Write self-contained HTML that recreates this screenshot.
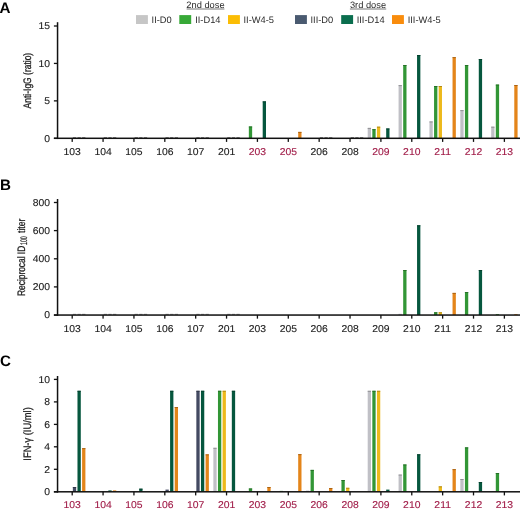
<!DOCTYPE html><html><head><meta charset="utf-8"><style>
html,body{margin:0;padding:0;background:#fff;}body{width:520px;height:511px;overflow:hidden;}
svg{display:block;filter:blur(0.35px);}text{font-family:"Liberation Sans", sans-serif;text-rendering:geometricPrecision;}
</style></head><body>
<svg width="520" height="511" viewBox="0 0 520 511">
<g font-size="9.3" fill="#2a2a2a">
<text x="205.5" y="8.1" text-anchor="middle">2nd dose</text>
<rect x="186.6" y="8.6" width="37.8" height="0.8" fill="#555" stroke="none"/>
<text x="368" y="8.1" text-anchor="middle">3rd dose</text>
<rect x="349.9" y="8.6" width="36.3" height="0.8" fill="#555" stroke="none"/>
<rect x="136.0" y="15.1" width="11.9" height="8.9" fill="#c6c6c6" stroke="none"/>
<text x="151.6" y="22.8">II-D0</text>
<rect x="179.3" y="15.1" width="11.9" height="8.9" fill="#37a937" stroke="none"/>
<text x="195.2" y="22.8">II-D14</text>
<rect x="228.0" y="15.1" width="11.9" height="8.9" fill="#fbbd05" stroke="none"/>
<text x="243.5" y="22.8">II-W4-5</text>
<rect x="295.0" y="15.1" width="11.9" height="8.9" fill="#4a5a70" stroke="none"/>
<text x="310.5" y="22.8">III-D0</text>
<rect x="341.2" y="15.1" width="11.9" height="8.9" fill="#0a6e4e" stroke="none"/>
<text x="356.7" y="22.8">III-D14</text>
<rect x="392.0" y="15.1" width="11.9" height="8.9" fill="#f98c0c" stroke="none"/>
<text x="407.7" y="22.8">III-W4-5</text>
</g>
<text x="-0.5" y="12.5" font-size="15.2" font-weight="bold" fill="#000">A</text>
<rect x="72.86" y="137.15" width="3.30" height="0.6" fill="#444"/>
<rect x="77.48" y="137.15" width="3.30" height="0.6" fill="#444"/>
<rect x="82.10" y="137.15" width="3.30" height="0.6" fill="#444"/>
<rect x="103.73" y="137.15" width="3.30" height="0.6" fill="#444"/>
<rect x="108.35" y="137.15" width="3.30" height="0.6" fill="#444"/>
<rect x="112.97" y="137.15" width="3.30" height="0.6" fill="#444"/>
<rect x="134.60" y="137.15" width="3.30" height="0.6" fill="#444"/>
<rect x="139.22" y="137.15" width="3.30" height="0.6" fill="#444"/>
<rect x="143.84" y="137.15" width="3.30" height="0.6" fill="#444"/>
<rect x="165.47" y="137.15" width="3.30" height="0.6" fill="#444"/>
<rect x="170.09" y="137.15" width="3.30" height="0.6" fill="#444"/>
<rect x="174.71" y="137.15" width="3.30" height="0.6" fill="#444"/>
<rect x="196.34" y="137.15" width="3.30" height="0.6" fill="#444"/>
<rect x="200.96" y="137.15" width="3.30" height="0.6" fill="#444"/>
<rect x="205.58" y="137.15" width="3.30" height="0.6" fill="#444"/>
<rect x="227.21" y="137.15" width="3.30" height="0.6" fill="#444"/>
<rect x="231.83" y="137.15" width="3.30" height="0.6" fill="#444"/>
<rect x="236.45" y="137.15" width="3.30" height="0.6" fill="#444"/>
<rect x="319.82" y="137.15" width="3.30" height="0.6" fill="#444"/>
<rect x="324.44" y="137.15" width="3.30" height="0.6" fill="#444"/>
<rect x="329.06" y="137.15" width="3.30" height="0.6" fill="#444"/>
<rect x="350.69" y="137.15" width="3.30" height="0.6" fill="#444"/>
<rect x="355.31" y="137.15" width="3.30" height="0.6" fill="#444"/>
<rect x="359.93" y="137.15" width="3.30" height="0.6" fill="#444"/>
<rect x="248.84" y="126.50" width="3.30" height="11.80" fill="#329636"/>
<rect x="248.84" y="126.50" width="3.30" height="0.9" fill="#246c26"/>
<rect x="262.70" y="101.40" width="3.30" height="36.90" fill="#06573e"/>
<rect x="262.70" y="101.40" width="3.30" height="0.9" fill="#043e2c"/>
<rect x="298.19" y="131.90" width="3.30" height="6.40" fill="#e4851a"/>
<rect x="298.19" y="131.90" width="3.30" height="0.9" fill="#a45f12"/>
<rect x="367.70" y="127.90" width="3.30" height="10.40" fill="#c0c0c6"/>
<rect x="367.70" y="127.90" width="3.30" height="0.9" fill="#8a8a8e"/>
<rect x="372.32" y="129.20" width="3.30" height="9.10" fill="#329636"/>
<rect x="372.32" y="129.20" width="3.30" height="0.9" fill="#246c26"/>
<rect x="376.94" y="126.70" width="3.30" height="11.60" fill="#edb91c"/>
<rect x="376.94" y="126.70" width="3.30" height="0.9" fill="#aa8514"/>
<rect x="386.18" y="128.50" width="3.30" height="9.80" fill="#06573e"/>
<rect x="386.18" y="128.50" width="3.30" height="0.9" fill="#043e2c"/>
<rect x="398.57" y="85.20" width="3.30" height="53.10" fill="#c0c0c6"/>
<rect x="398.57" y="85.20" width="3.30" height="0.9" fill="#8a8a8e"/>
<rect x="403.19" y="65.00" width="3.30" height="73.30" fill="#329636"/>
<rect x="403.19" y="65.00" width="3.30" height="0.9" fill="#246c26"/>
<rect x="417.05" y="55.00" width="3.30" height="83.30" fill="#06573e"/>
<rect x="417.05" y="55.00" width="3.30" height="0.9" fill="#043e2c"/>
<rect x="429.44" y="121.50" width="3.30" height="16.80" fill="#c0c0c6"/>
<rect x="429.44" y="121.50" width="3.30" height="0.9" fill="#8a8a8e"/>
<rect x="434.06" y="86.00" width="3.30" height="52.30" fill="#329636"/>
<rect x="434.06" y="86.00" width="3.30" height="0.9" fill="#246c26"/>
<rect x="438.68" y="86.00" width="3.30" height="52.30" fill="#edb91c"/>
<rect x="438.68" y="86.00" width="3.30" height="0.9" fill="#aa8514"/>
<rect x="452.54" y="57.20" width="3.30" height="81.10" fill="#e4851a"/>
<rect x="452.54" y="57.20" width="3.30" height="0.9" fill="#a45f12"/>
<rect x="460.31" y="110.20" width="3.30" height="28.10" fill="#c0c0c6"/>
<rect x="460.31" y="110.20" width="3.30" height="0.9" fill="#8a8a8e"/>
<rect x="464.93" y="65.00" width="3.30" height="73.30" fill="#329636"/>
<rect x="464.93" y="65.00" width="3.30" height="0.9" fill="#246c26"/>
<rect x="478.79" y="59.10" width="3.30" height="79.20" fill="#06573e"/>
<rect x="478.79" y="59.10" width="3.30" height="0.9" fill="#043e2c"/>
<rect x="491.18" y="126.70" width="3.30" height="11.60" fill="#c0c0c6"/>
<rect x="491.18" y="126.70" width="3.30" height="0.9" fill="#8a8a8e"/>
<rect x="495.80" y="84.60" width="3.30" height="53.70" fill="#329636"/>
<rect x="495.80" y="84.60" width="3.30" height="0.9" fill="#246c26"/>
<rect x="514.28" y="85.00" width="3.30" height="53.30" fill="#e4851a"/>
<rect x="514.28" y="85.00" width="3.30" height="0.9" fill="#a45f12"/>
<rect x="56.80" y="22.20" width="1.5" height="116.85" fill="#111"/>
<rect x="53.9" y="137.55" width="466.1" height="1.5" fill="#111"/>
<rect x="53.9" y="137.65" width="4" height="1.3" fill="#111"/>
<text transform="translate(50.1,141.70) scale(1.050,1)" font-size="9.9" text-anchor="end" fill="#222" stroke="#222" stroke-width="0.12">0</text>
<rect x="53.9" y="100.22" width="4" height="1.3" fill="#111"/>
<text transform="translate(50.1,104.27) scale(1.050,1)" font-size="9.9" text-anchor="end" fill="#222" stroke="#222" stroke-width="0.12">5</text>
<rect x="53.9" y="62.78" width="4" height="1.3" fill="#111"/>
<text transform="translate(50.1,66.83) scale(1.050,1)" font-size="9.9" text-anchor="end" fill="#222" stroke="#222" stroke-width="0.12">10</text>
<rect x="53.9" y="25.35" width="4" height="1.3" fill="#111"/>
<text transform="translate(50.1,29.40) scale(1.050,1)" font-size="9.9" text-anchor="end" fill="#222" stroke="#222" stroke-width="0.12">15</text>
<rect x="71.55" y="138.30" width="1.3" height="3.6" fill="#111"/>
<text transform="translate(72.20,154.70) scale(1.050,1)" font-size="9.9" text-anchor="middle" fill="#222" stroke="#222" stroke-width="0.12">103</text>
<rect x="102.42" y="138.30" width="1.3" height="3.6" fill="#111"/>
<text transform="translate(103.07,154.70) scale(1.050,1)" font-size="9.9" text-anchor="middle" fill="#222" stroke="#222" stroke-width="0.12">104</text>
<rect x="133.29" y="138.30" width="1.3" height="3.6" fill="#111"/>
<text transform="translate(133.94,154.70) scale(1.050,1)" font-size="9.9" text-anchor="middle" fill="#222" stroke="#222" stroke-width="0.12">105</text>
<rect x="164.16" y="138.30" width="1.3" height="3.6" fill="#111"/>
<text transform="translate(164.81,154.70) scale(1.050,1)" font-size="9.9" text-anchor="middle" fill="#222" stroke="#222" stroke-width="0.12">106</text>
<rect x="195.03" y="138.30" width="1.3" height="3.6" fill="#111"/>
<text transform="translate(195.68,154.70) scale(1.050,1)" font-size="9.9" text-anchor="middle" fill="#222" stroke="#222" stroke-width="0.12">107</text>
<rect x="225.90" y="138.30" width="1.3" height="3.6" fill="#111"/>
<text transform="translate(226.55,154.70) scale(1.050,1)" font-size="9.9" text-anchor="middle" fill="#222" stroke="#222" stroke-width="0.12">201</text>
<rect x="256.77" y="138.30" width="1.3" height="3.6" fill="#111"/>
<text transform="translate(257.42,154.70) scale(1.050,1)" font-size="9.9" text-anchor="middle" fill="#a01c48" stroke="#a01c48" stroke-width="0.12">203</text>
<rect x="287.64" y="138.30" width="1.3" height="3.6" fill="#111"/>
<text transform="translate(288.29,154.70) scale(1.050,1)" font-size="9.9" text-anchor="middle" fill="#a01c48" stroke="#a01c48" stroke-width="0.12">205</text>
<rect x="318.51" y="138.30" width="1.3" height="3.6" fill="#111"/>
<text transform="translate(319.16,154.70) scale(1.050,1)" font-size="9.9" text-anchor="middle" fill="#222" stroke="#222" stroke-width="0.12">206</text>
<rect x="349.38" y="138.30" width="1.3" height="3.6" fill="#111"/>
<text transform="translate(350.03,154.70) scale(1.050,1)" font-size="9.9" text-anchor="middle" fill="#222" stroke="#222" stroke-width="0.12">208</text>
<rect x="380.25" y="138.30" width="1.3" height="3.6" fill="#111"/>
<text transform="translate(380.90,154.70) scale(1.050,1)" font-size="9.9" text-anchor="middle" fill="#a01c48" stroke="#a01c48" stroke-width="0.12">209</text>
<rect x="411.12" y="138.30" width="1.3" height="3.6" fill="#111"/>
<text transform="translate(411.77,154.70) scale(1.050,1)" font-size="9.9" text-anchor="middle" fill="#a01c48" stroke="#a01c48" stroke-width="0.12">210</text>
<rect x="441.99" y="138.30" width="1.3" height="3.6" fill="#111"/>
<text transform="translate(442.64,154.70) scale(1.050,1)" font-size="9.9" text-anchor="middle" fill="#a01c48" stroke="#a01c48" stroke-width="0.12">211</text>
<rect x="472.86" y="138.30" width="1.3" height="3.6" fill="#111"/>
<text transform="translate(473.51,154.70) scale(1.050,1)" font-size="9.9" text-anchor="middle" fill="#a01c48" stroke="#a01c48" stroke-width="0.12">212</text>
<rect x="503.73" y="138.30" width="1.3" height="3.6" fill="#111"/>
<text transform="translate(504.38,154.70) scale(1.050,1)" font-size="9.9" text-anchor="middle" fill="#a01c48" stroke="#a01c48" stroke-width="0.12">213</text>
<text x="0.0" y="189.6" font-size="15.2" font-weight="bold" fill="#000">B</text>
<rect x="72.86" y="313.90" width="3.30" height="0.6" fill="#444"/>
<rect x="77.48" y="313.90" width="3.30" height="0.6" fill="#444"/>
<rect x="82.10" y="313.90" width="3.30" height="0.6" fill="#444"/>
<rect x="103.73" y="313.90" width="3.30" height="0.6" fill="#444"/>
<rect x="108.35" y="313.90" width="3.30" height="0.6" fill="#444"/>
<rect x="112.97" y="313.90" width="3.30" height="0.6" fill="#444"/>
<rect x="134.60" y="313.90" width="3.30" height="0.6" fill="#444"/>
<rect x="139.22" y="313.90" width="3.30" height="0.6" fill="#444"/>
<rect x="143.84" y="313.90" width="3.30" height="0.6" fill="#444"/>
<rect x="165.47" y="313.90" width="3.30" height="0.6" fill="#444"/>
<rect x="170.09" y="313.90" width="3.30" height="0.6" fill="#444"/>
<rect x="174.71" y="313.90" width="3.30" height="0.6" fill="#444"/>
<rect x="196.34" y="313.90" width="3.30" height="0.6" fill="#444"/>
<rect x="200.96" y="313.90" width="3.30" height="0.6" fill="#444"/>
<rect x="205.58" y="313.90" width="3.30" height="0.6" fill="#444"/>
<rect x="227.21" y="313.90" width="3.30" height="0.6" fill="#444"/>
<rect x="231.83" y="313.90" width="3.30" height="0.6" fill="#444"/>
<rect x="236.45" y="313.90" width="3.30" height="0.6" fill="#444"/>
<rect x="398.57" y="313.80" width="3.30" height="1.25" fill="#c0c0c6"/>
<rect x="403.19" y="270.00" width="3.30" height="45.05" fill="#329636"/>
<rect x="403.19" y="270.00" width="3.30" height="0.9" fill="#246c26"/>
<rect x="417.05" y="225.30" width="3.30" height="89.75" fill="#06573e"/>
<rect x="417.05" y="225.30" width="3.30" height="0.9" fill="#043e2c"/>
<rect x="434.06" y="312.30" width="3.30" height="2.75" fill="#329636"/>
<rect x="434.06" y="312.30" width="3.30" height="0.9" fill="#246c26"/>
<rect x="438.68" y="312.30" width="3.30" height="2.75" fill="#edb91c"/>
<rect x="438.68" y="312.30" width="3.30" height="0.9" fill="#aa8514"/>
<rect x="452.54" y="292.90" width="3.30" height="22.15" fill="#e4851a"/>
<rect x="452.54" y="292.90" width="3.30" height="0.9" fill="#a45f12"/>
<rect x="464.93" y="292.10" width="3.30" height="22.95" fill="#329636"/>
<rect x="464.93" y="292.10" width="3.30" height="0.9" fill="#246c26"/>
<rect x="478.79" y="270.00" width="3.30" height="45.05" fill="#06573e"/>
<rect x="478.79" y="270.00" width="3.30" height="0.9" fill="#043e2c"/>
<rect x="495.80" y="314.20" width="3.30" height="0.85" fill="#329636"/>
<rect x="514.28" y="314.20" width="3.30" height="0.85" fill="#e4851a"/>
<rect x="56.80" y="199.00" width="1.5" height="116.80" fill="#111"/>
<rect x="53.9" y="314.30" width="466.1" height="1.5" fill="#111"/>
<rect x="53.9" y="314.40" width="4" height="1.3" fill="#111"/>
<text transform="translate(50.1,318.45) scale(1.050,1)" font-size="9.9" text-anchor="end" fill="#222" stroke="#222" stroke-width="0.12">0</text>
<rect x="53.9" y="286.25" width="4" height="1.3" fill="#111"/>
<text transform="translate(50.1,290.30) scale(1.050,1)" font-size="9.9" text-anchor="end" fill="#222" stroke="#222" stroke-width="0.12">200</text>
<rect x="53.9" y="258.15" width="4" height="1.3" fill="#111"/>
<text transform="translate(50.1,262.20) scale(1.050,1)" font-size="9.9" text-anchor="end" fill="#222" stroke="#222" stroke-width="0.12">400</text>
<rect x="53.9" y="229.95" width="4" height="1.3" fill="#111"/>
<text transform="translate(50.1,234.00) scale(1.050,1)" font-size="9.9" text-anchor="end" fill="#222" stroke="#222" stroke-width="0.12">600</text>
<rect x="53.9" y="201.85" width="4" height="1.3" fill="#111"/>
<text transform="translate(50.1,205.90) scale(1.050,1)" font-size="9.9" text-anchor="end" fill="#222" stroke="#222" stroke-width="0.12">800</text>
<rect x="71.55" y="315.05" width="1.3" height="3.6" fill="#111"/>
<text transform="translate(72.20,331.75) scale(1.050,1)" font-size="9.9" text-anchor="middle" fill="#222" stroke="#222" stroke-width="0.12">103</text>
<rect x="102.42" y="315.05" width="1.3" height="3.6" fill="#111"/>
<text transform="translate(103.07,331.75) scale(1.050,1)" font-size="9.9" text-anchor="middle" fill="#222" stroke="#222" stroke-width="0.12">104</text>
<rect x="133.29" y="315.05" width="1.3" height="3.6" fill="#111"/>
<text transform="translate(133.94,331.75) scale(1.050,1)" font-size="9.9" text-anchor="middle" fill="#222" stroke="#222" stroke-width="0.12">105</text>
<rect x="164.16" y="315.05" width="1.3" height="3.6" fill="#111"/>
<text transform="translate(164.81,331.75) scale(1.050,1)" font-size="9.9" text-anchor="middle" fill="#222" stroke="#222" stroke-width="0.12">106</text>
<rect x="195.03" y="315.05" width="1.3" height="3.6" fill="#111"/>
<text transform="translate(195.68,331.75) scale(1.050,1)" font-size="9.9" text-anchor="middle" fill="#222" stroke="#222" stroke-width="0.12">107</text>
<rect x="225.90" y="315.05" width="1.3" height="3.6" fill="#111"/>
<text transform="translate(226.55,331.75) scale(1.050,1)" font-size="9.9" text-anchor="middle" fill="#222" stroke="#222" stroke-width="0.12">201</text>
<rect x="256.77" y="315.05" width="1.3" height="3.6" fill="#111"/>
<text transform="translate(257.42,331.75) scale(1.050,1)" font-size="9.9" text-anchor="middle" fill="#222" stroke="#222" stroke-width="0.12">203</text>
<rect x="287.64" y="315.05" width="1.3" height="3.6" fill="#111"/>
<text transform="translate(288.29,331.75) scale(1.050,1)" font-size="9.9" text-anchor="middle" fill="#222" stroke="#222" stroke-width="0.12">205</text>
<rect x="318.51" y="315.05" width="1.3" height="3.6" fill="#111"/>
<text transform="translate(319.16,331.75) scale(1.050,1)" font-size="9.9" text-anchor="middle" fill="#222" stroke="#222" stroke-width="0.12">206</text>
<rect x="349.38" y="315.05" width="1.3" height="3.6" fill="#111"/>
<text transform="translate(350.03,331.75) scale(1.050,1)" font-size="9.9" text-anchor="middle" fill="#222" stroke="#222" stroke-width="0.12">208</text>
<rect x="380.25" y="315.05" width="1.3" height="3.6" fill="#111"/>
<text transform="translate(380.90,331.75) scale(1.050,1)" font-size="9.9" text-anchor="middle" fill="#222" stroke="#222" stroke-width="0.12">209</text>
<rect x="411.12" y="315.05" width="1.3" height="3.6" fill="#111"/>
<text transform="translate(411.77,331.75) scale(1.050,1)" font-size="9.9" text-anchor="middle" fill="#222" stroke="#222" stroke-width="0.12">210</text>
<rect x="441.99" y="315.05" width="1.3" height="3.6" fill="#111"/>
<text transform="translate(442.64,331.75) scale(1.050,1)" font-size="9.9" text-anchor="middle" fill="#222" stroke="#222" stroke-width="0.12">211</text>
<rect x="472.86" y="315.05" width="1.3" height="3.6" fill="#111"/>
<text transform="translate(473.51,331.75) scale(1.050,1)" font-size="9.9" text-anchor="middle" fill="#222" stroke="#222" stroke-width="0.12">212</text>
<rect x="503.73" y="315.05" width="1.3" height="3.6" fill="#111"/>
<text transform="translate(504.38,331.75) scale(1.050,1)" font-size="9.9" text-anchor="middle" fill="#222" stroke="#222" stroke-width="0.12">213</text>
<text x="0.0" y="366.2" font-size="15.2" font-weight="bold" fill="#000">C</text>
<rect x="72.86" y="487.10" width="3.30" height="4.70" fill="#444a62"/>
<rect x="72.86" y="487.10" width="3.30" height="0.9" fill="#303546"/>
<rect x="77.48" y="390.80" width="3.30" height="101.00" fill="#06573e"/>
<rect x="77.48" y="390.80" width="3.30" height="0.9" fill="#043e2c"/>
<rect x="82.10" y="448.20" width="3.30" height="43.60" fill="#e4851a"/>
<rect x="82.10" y="448.20" width="3.30" height="0.9" fill="#a45f12"/>
<rect x="108.35" y="490.40" width="3.30" height="1.40" fill="#06573e"/>
<rect x="112.97" y="490.40" width="3.30" height="1.40" fill="#e4851a"/>
<rect x="139.22" y="488.70" width="3.30" height="3.10" fill="#06573e"/>
<rect x="139.22" y="488.70" width="3.30" height="0.9" fill="#043e2c"/>
<rect x="165.47" y="489.60" width="3.30" height="2.20" fill="#444a62"/>
<rect x="170.09" y="390.80" width="3.30" height="101.00" fill="#06573e"/>
<rect x="170.09" y="390.80" width="3.30" height="0.9" fill="#043e2c"/>
<rect x="174.71" y="407.00" width="3.30" height="84.80" fill="#e4851a"/>
<rect x="174.71" y="407.00" width="3.30" height="0.9" fill="#a45f12"/>
<rect x="196.34" y="390.80" width="3.30" height="101.00" fill="#444a62"/>
<rect x="196.34" y="390.80" width="3.30" height="0.9" fill="#303546"/>
<rect x="200.96" y="390.80" width="3.30" height="101.00" fill="#06573e"/>
<rect x="200.96" y="390.80" width="3.30" height="0.9" fill="#043e2c"/>
<rect x="205.58" y="454.40" width="3.30" height="37.40" fill="#e4851a"/>
<rect x="205.58" y="454.40" width="3.30" height="0.9" fill="#a45f12"/>
<rect x="213.35" y="447.80" width="3.30" height="44.00" fill="#c0c0c6"/>
<rect x="213.35" y="447.80" width="3.30" height="0.9" fill="#8a8a8e"/>
<rect x="217.97" y="390.80" width="3.30" height="101.00" fill="#329636"/>
<rect x="217.97" y="390.80" width="3.30" height="0.9" fill="#246c26"/>
<rect x="222.59" y="390.80" width="3.30" height="101.00" fill="#edb91c"/>
<rect x="222.59" y="390.80" width="3.30" height="0.9" fill="#aa8514"/>
<rect x="231.83" y="390.80" width="3.30" height="101.00" fill="#06573e"/>
<rect x="231.83" y="390.80" width="3.30" height="0.9" fill="#043e2c"/>
<rect x="248.84" y="488.50" width="3.30" height="3.30" fill="#329636"/>
<rect x="248.84" y="488.50" width="3.30" height="0.9" fill="#246c26"/>
<rect x="267.32" y="487.00" width="3.30" height="4.80" fill="#e4851a"/>
<rect x="267.32" y="487.00" width="3.30" height="0.9" fill="#a45f12"/>
<rect x="279.71" y="490.90" width="3.30" height="0.90" fill="#329636"/>
<rect x="298.19" y="454.20" width="3.30" height="37.60" fill="#e4851a"/>
<rect x="298.19" y="454.20" width="3.30" height="0.9" fill="#a45f12"/>
<rect x="305.96" y="490.60" width="3.30" height="1.20" fill="#c0c0c6"/>
<rect x="310.58" y="469.90" width="3.30" height="21.90" fill="#329636"/>
<rect x="310.58" y="469.90" width="3.30" height="0.9" fill="#246c26"/>
<rect x="329.06" y="488.10" width="3.30" height="3.70" fill="#e4851a"/>
<rect x="329.06" y="488.10" width="3.30" height="0.9" fill="#a45f12"/>
<rect x="341.45" y="480.00" width="3.30" height="11.80" fill="#329636"/>
<rect x="341.45" y="480.00" width="3.30" height="0.9" fill="#246c26"/>
<rect x="346.07" y="487.80" width="3.30" height="4.00" fill="#edb91c"/>
<rect x="346.07" y="487.80" width="3.30" height="0.9" fill="#aa8514"/>
<rect x="367.70" y="390.80" width="3.30" height="101.00" fill="#c0c0c6"/>
<rect x="367.70" y="390.80" width="3.30" height="0.9" fill="#8a8a8e"/>
<rect x="372.32" y="390.80" width="3.30" height="101.00" fill="#329636"/>
<rect x="372.32" y="390.80" width="3.30" height="0.9" fill="#246c26"/>
<rect x="376.94" y="390.80" width="3.30" height="101.00" fill="#edb91c"/>
<rect x="376.94" y="390.80" width="3.30" height="0.9" fill="#aa8514"/>
<rect x="386.18" y="489.60" width="3.30" height="2.20" fill="#06573e"/>
<rect x="398.57" y="474.60" width="3.30" height="17.20" fill="#c0c0c6"/>
<rect x="398.57" y="474.60" width="3.30" height="0.9" fill="#8a8a8e"/>
<rect x="403.19" y="464.50" width="3.30" height="27.30" fill="#329636"/>
<rect x="403.19" y="464.50" width="3.30" height="0.9" fill="#246c26"/>
<rect x="417.05" y="454.30" width="3.30" height="37.50" fill="#06573e"/>
<rect x="417.05" y="454.30" width="3.30" height="0.9" fill="#043e2c"/>
<rect x="438.68" y="486.40" width="3.30" height="5.40" fill="#edb91c"/>
<rect x="438.68" y="486.40" width="3.30" height="0.9" fill="#aa8514"/>
<rect x="452.54" y="469.20" width="3.30" height="22.60" fill="#e4851a"/>
<rect x="452.54" y="469.20" width="3.30" height="0.9" fill="#a45f12"/>
<rect x="460.31" y="479.00" width="3.30" height="12.80" fill="#c0c0c6"/>
<rect x="460.31" y="479.00" width="3.30" height="0.9" fill="#8a8a8e"/>
<rect x="464.93" y="447.40" width="3.30" height="44.40" fill="#329636"/>
<rect x="464.93" y="447.40" width="3.30" height="0.9" fill="#246c26"/>
<rect x="478.79" y="482.10" width="3.30" height="9.70" fill="#06573e"/>
<rect x="478.79" y="482.10" width="3.30" height="0.9" fill="#043e2c"/>
<rect x="491.18" y="491.00" width="3.30" height="0.80" fill="#c0c0c6"/>
<rect x="495.80" y="473.00" width="3.30" height="18.80" fill="#329636"/>
<rect x="495.80" y="473.00" width="3.30" height="0.9" fill="#246c26"/>
<rect x="56.80" y="376.00" width="1.5" height="116.55" fill="#111"/>
<rect x="53.9" y="491.05" width="466.1" height="1.5" fill="#111"/>
<rect x="53.9" y="491.15" width="4" height="1.3" fill="#111"/>
<text transform="translate(50.1,495.20) scale(1.050,1)" font-size="9.9" text-anchor="end" fill="#222" stroke="#222" stroke-width="0.12">0</text>
<rect x="53.9" y="468.65" width="4" height="1.3" fill="#111"/>
<text transform="translate(50.1,472.70) scale(1.050,1)" font-size="9.9" text-anchor="end" fill="#222" stroke="#222" stroke-width="0.12">2</text>
<rect x="53.9" y="446.15" width="4" height="1.3" fill="#111"/>
<text transform="translate(50.1,450.20) scale(1.050,1)" font-size="9.9" text-anchor="end" fill="#222" stroke="#222" stroke-width="0.12">4</text>
<rect x="53.9" y="423.75" width="4" height="1.3" fill="#111"/>
<text transform="translate(50.1,427.80) scale(1.050,1)" font-size="9.9" text-anchor="end" fill="#222" stroke="#222" stroke-width="0.12">6</text>
<rect x="53.9" y="401.25" width="4" height="1.3" fill="#111"/>
<text transform="translate(50.1,405.30) scale(1.050,1)" font-size="9.9" text-anchor="end" fill="#222" stroke="#222" stroke-width="0.12">8</text>
<rect x="53.9" y="378.75" width="4" height="1.3" fill="#111"/>
<text transform="translate(50.1,382.80) scale(1.050,1)" font-size="9.9" text-anchor="end" fill="#222" stroke="#222" stroke-width="0.12">10</text>
<rect x="71.55" y="491.80" width="1.3" height="3.6" fill="#111"/>
<text transform="translate(72.20,508.00) scale(1.050,1)" font-size="9.9" text-anchor="middle" fill="#a01c48" stroke="#a01c48" stroke-width="0.12">103</text>
<rect x="102.42" y="491.80" width="1.3" height="3.6" fill="#111"/>
<text transform="translate(103.07,508.00) scale(1.050,1)" font-size="9.9" text-anchor="middle" fill="#a01c48" stroke="#a01c48" stroke-width="0.12">104</text>
<rect x="133.29" y="491.80" width="1.3" height="3.6" fill="#111"/>
<text transform="translate(133.94,508.00) scale(1.050,1)" font-size="9.9" text-anchor="middle" fill="#a01c48" stroke="#a01c48" stroke-width="0.12">105</text>
<rect x="164.16" y="491.80" width="1.3" height="3.6" fill="#111"/>
<text transform="translate(164.81,508.00) scale(1.050,1)" font-size="9.9" text-anchor="middle" fill="#a01c48" stroke="#a01c48" stroke-width="0.12">106</text>
<rect x="195.03" y="491.80" width="1.3" height="3.6" fill="#111"/>
<text transform="translate(195.68,508.00) scale(1.050,1)" font-size="9.9" text-anchor="middle" fill="#a01c48" stroke="#a01c48" stroke-width="0.12">107</text>
<rect x="225.90" y="491.80" width="1.3" height="3.6" fill="#111"/>
<text transform="translate(226.55,508.00) scale(1.050,1)" font-size="9.9" text-anchor="middle" fill="#a01c48" stroke="#a01c48" stroke-width="0.12">201</text>
<rect x="256.77" y="491.80" width="1.3" height="3.6" fill="#111"/>
<text transform="translate(257.42,508.00) scale(1.050,1)" font-size="9.9" text-anchor="middle" fill="#a01c48" stroke="#a01c48" stroke-width="0.12">203</text>
<rect x="287.64" y="491.80" width="1.3" height="3.6" fill="#111"/>
<text transform="translate(288.29,508.00) scale(1.050,1)" font-size="9.9" text-anchor="middle" fill="#a01c48" stroke="#a01c48" stroke-width="0.12">205</text>
<rect x="318.51" y="491.80" width="1.3" height="3.6" fill="#111"/>
<text transform="translate(319.16,508.00) scale(1.050,1)" font-size="9.9" text-anchor="middle" fill="#a01c48" stroke="#a01c48" stroke-width="0.12">206</text>
<rect x="349.38" y="491.80" width="1.3" height="3.6" fill="#111"/>
<text transform="translate(350.03,508.00) scale(1.050,1)" font-size="9.9" text-anchor="middle" fill="#a01c48" stroke="#a01c48" stroke-width="0.12">208</text>
<rect x="380.25" y="491.80" width="1.3" height="3.6" fill="#111"/>
<text transform="translate(380.90,508.00) scale(1.050,1)" font-size="9.9" text-anchor="middle" fill="#a01c48" stroke="#a01c48" stroke-width="0.12">209</text>
<rect x="411.12" y="491.80" width="1.3" height="3.6" fill="#111"/>
<text transform="translate(411.77,508.00) scale(1.050,1)" font-size="9.9" text-anchor="middle" fill="#a01c48" stroke="#a01c48" stroke-width="0.12">210</text>
<rect x="441.99" y="491.80" width="1.3" height="3.6" fill="#111"/>
<text transform="translate(442.64,508.00) scale(1.050,1)" font-size="9.9" text-anchor="middle" fill="#a01c48" stroke="#a01c48" stroke-width="0.12">211</text>
<rect x="472.86" y="491.80" width="1.3" height="3.6" fill="#111"/>
<text transform="translate(473.51,508.00) scale(1.050,1)" font-size="9.9" text-anchor="middle" fill="#a01c48" stroke="#a01c48" stroke-width="0.12">212</text>
<rect x="503.73" y="491.80" width="1.3" height="3.6" fill="#111"/>
<text transform="translate(504.38,508.00) scale(1.050,1)" font-size="9.9" text-anchor="middle" fill="#a01c48" stroke="#a01c48" stroke-width="0.12">213</text>
<text transform="translate(30.5,80.6) rotate(-90) scale(0.785,1)" font-size="10.8" stroke="#222" stroke-width="0.3" text-anchor="middle" fill="#222">Anti-IgG (ratio)</text>
<text transform="translate(24.5,296.0) rotate(-90) scale(0.775,1)" font-size="10.8" stroke="#222" stroke-width="0.3" fill="#222">Reciprocal ID</text>
<text transform="translate(27.2,245.0) rotate(-90) scale(0.54,1)" font-size="9.6" stroke="#222" stroke-width="0.25" fill="#222">100</text>
<text transform="translate(24.5,232.9) rotate(-90) scale(0.79,1)" font-size="10.8" stroke="#222" stroke-width="0.3" fill="#222">titer</text>
<text transform="translate(30.5,433.95) rotate(-90) scale(0.865,1)" font-size="10.8" stroke="#222" stroke-width="0.3" text-anchor="middle" fill="#222">IFN-γ (IU/ml)</text>
</svg></body></html>
